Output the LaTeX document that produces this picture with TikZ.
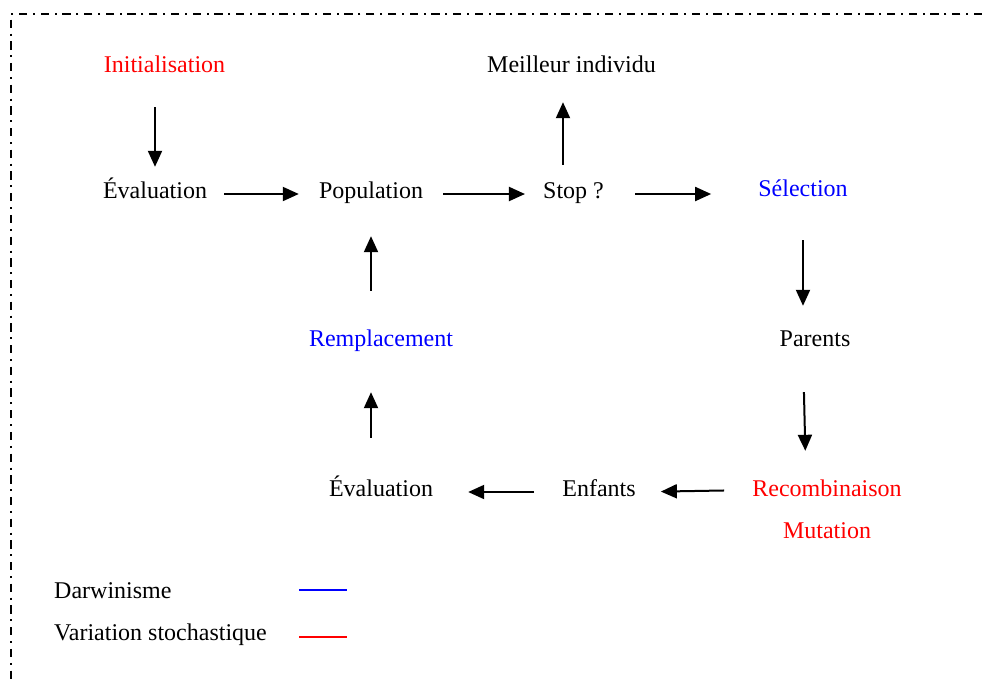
\documentclass[tikz,border=0pt]{standalone}
\usepackage{fontspec}
\setmainfont{Liberation Serif}
\usetikzlibrary{arrows.meta}
\definecolor{vred}{RGB}{255,0,0}
\definecolor{vblue}{RGB}{0,0,255}
\begin{document}
\begin{tikzpicture}[x=1pt,y=-1pt,
  lbl/.style={inner sep=0pt,text height=16pt,text depth=5pt,font=\fontsize{24}{28}\selectfont},
  arr/.style={line width=2pt,-{Triangle[length=16pt,width=14pt]}},
  frame/.style={line width=2pt,dash pattern=on 8.3pt off 5.7pt on 2pt off 5.7pt},
  key/.style={line width=2.2pt}]
\useasboundingbox (0,0) rectangle (982,681);
% dash-dot frame
\draw[frame] (982,14) -- (11,14) -- (11,681);

% steps of the algorithm
\node[lbl,text=vred]  (init) at (164.5,67) {Initialisation};
\node[lbl]            (best) at (571.5,67) {Meilleur individu};
\node[lbl]            (evalA) at (155,193) {Évaluation};
\node[lbl]            (pop) at (371,193) {Population};
\node[lbl]            (stop) at (573.5,193) {Stop ?};
\node[lbl,text=vblue] (sel) at (803,191) {Sélection};
\node[lbl]            (par) at (815,341) {Parents};
\node[lbl,text=vblue] (rep) at (381,341) {Remplacement};
\node[lbl]            (evalB) at (381,491) {Évaluation};
\node[lbl]            (enf) at (599,491) {Enfants};
\node[lbl,text=vred]  (rec) at (827,491) {Recombinaison};
\node[lbl,text=vred]  (mut) at (827,533) {Mutation};

% connectors
\draw[arr,shorten <=29.5pt,shorten >=15.5pt] ([xshift=-9.5pt]init.south) -- (evalA.north);
\draw[arr,shorten <=17pt,shorten >=20pt] ([yshift=-1pt]evalA.east) -- ([yshift=-1pt]pop.west);
\draw[arr,shorten <=20pt,shorten >=18pt] ([yshift=-1pt]pop.east) -- ([yshift=-1pt]stop.west);
\draw[arr,shorten <=17.5pt,shorten >=24.5pt] ([xshift=-10.5pt]stop.north) -- ([xshift=-8.5pt]best.south);
\draw[arr,shorten <=31pt,shorten >=47pt] ([yshift=-1pt]stop.east) -- ([yshift=-1pt]sel.west |- stop.east);
\draw[arr,shorten <=38.5pt,shorten >=24.5pt] (sel.south) -- ([xshift=-12pt]par.north);
\draw[arr,shorten <=40.5pt,shorten >=29.5pt] ([xshift=-12pt]par.south) -- ([xshift=-21pt]rec.north);
\draw[arr,shorten <=28pt,shorten >=25pt] ([yshift=1pt]rec.west) -- ([yshift=-1pt]enf.east);
\draw[arr,shorten <=28pt,shorten >=35pt] ([yshift=-1pt]enf.west) -- ([yshift=-1pt]evalB.east);
\draw[arr,shorten <=42.5pt,shorten >=40.5pt] ([xshift=-10pt]evalB.north) -- ([xshift=-10pt]rep.south);
\draw[arr,shorten <=39.5pt,shorten >=32.5pt] ([xshift=-10pt]rep.north) -- (pop.south);

% legend
\node[lbl,anchor=west] (darw) at (54,593) {Darwinisme};
\node[lbl,anchor=west] (vsto) at (54,635) {Variation stochastique};
\draw[key,vblue] (299,590) -- (347,590);
\draw[key,vred]  (299,637) -- (347,637);
\end{tikzpicture}
\end{document}
